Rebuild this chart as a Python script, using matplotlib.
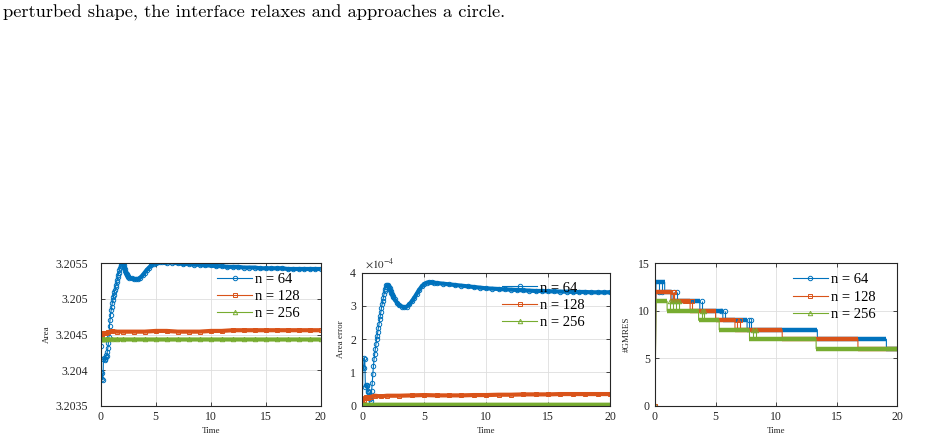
import numpy as np
import matplotlib.pyplot as plt

BLUE = '#0072BD'
ORANGE = '#D95319'
GREEN = '#77AC30'
DARK = '#262626'

# ---- data ------------------------------------------------------------------
# n = 64 is sampled on a finer grid early on (0.05), coarser later
t64 = np.concatenate([np.round(np.arange(0, 2.51, 0.05), 2),
                      np.round(np.arange(2.6, 6.01, 0.2), 1),
                      np.arange(6.5, 20.01, 0.5)])

area64 = [3.20434, 3.20398, 3.20396, 3.20388, 3.20386, 3.20415, 3.20417, 3.20416, 3.20414, 3.20418,
          3.20421, 3.20420, 3.20426, 3.20431, 3.20438, 3.20446, 3.20462, 3.20471, 3.20478, 3.20484,
          3.20489, 3.20494, 3.20498, 3.20502, 3.20506, 3.20510, 3.20513, 3.20517, 3.20520, 3.20524,
          3.20527, 3.20531, 3.20534, 3.20537, 3.20540, 3.20543, 3.20546, 3.20548, 3.20550, 3.20551,
          3.20551, 3.20550, 3.20548, 3.20545, 3.20542, 3.20539, 3.20537, 3.20535, 3.20533, 3.20532,
          3.20531,
          3.20530, 3.20529, 3.20528, 3.20528, 3.20528, 3.20530, 3.20533, 3.20537, 3.20541, 3.20544,
          3.20547, 3.20549, 3.20551, 3.20552, 3.20552, 3.20552, 3.20552, 3.20551,
          3.20551, 3.20550, 3.20549, 3.20549, 3.20548, 3.20548, 3.20547, 3.20547, 3.20546, 3.20546,
          3.20545, 3.20545, 3.20545, 3.20544, 3.20544, 3.20544, 3.20543, 3.20543, 3.20543, 3.20543,
          3.20543, 3.20542, 3.20542, 3.20542, 3.20542, 3.20542, 3.20542, 3.20542]

# area error in units of 1e-4
err64 = [0.00, 1.15, 1.12, 1.42, 1.40, 0.55, 0.62, 0.58, 0.62, 0.45,
         0.42, 0.40, 0.30, 0.20, 0.15, 0.45, 0.67, 0.95, 1.20, 1.40,
         1.55, 1.70, 1.85, 2.00, 2.10, 2.22, 2.35, 2.45, 2.60, 2.70,
         2.82, 2.95, 3.05, 3.15, 3.25, 3.35, 3.45, 3.52, 3.58, 3.62,
         3.63, 3.62, 3.60, 3.58, 3.54, 3.49, 3.45, 3.40, 3.35, 3.31,
         3.27,
         3.20, 3.10, 3.02, 2.98, 2.96, 2.98, 3.05, 3.14, 3.25, 3.37,
         3.49, 3.59, 3.66, 3.70, 3.71, 3.71, 3.70, 3.69,
         3.67, 3.65, 3.63, 3.61, 3.59, 3.57, 3.55, 3.53,
         3.52, 3.51, 3.50, 3.49, 3.48, 3.47, 3.46, 3.45, 3.45, 3.44,
         3.44, 3.43, 3.43, 3.42, 3.42, 3.42, 3.41, 3.41, 3.41, 3.41]

t_fine = [0, 0.1, 0.2, 0.3, 0.5, 0.7, 1.0, 1.5, 2, 3, 4, 5, 6, 7, 8, 9, 10,
          11, 12, 13, 14, 15, 16, 17, 18, 19, 20]
area128 = [3.20446, 3.20450, 3.20452, 3.20452, 3.20452, 3.20453, 3.20455, 3.20454, 3.20454,
           3.20454, 3.20454, 3.20455, 3.20455, 3.20454, 3.20454, 3.20454, 3.20455, 3.20455,
           3.20456, 3.20456, 3.20456, 3.20456, 3.20456, 3.20456, 3.20456, 3.20456, 3.20456]
area256 = [3.20444, 3.20443, 3.20443, 3.20443, 3.20443, 3.20443, 3.20443, 3.20443, 3.20443,
           3.20443, 3.20443, 3.20443, 3.20443, 3.20443, 3.20443, 3.20443, 3.20443, 3.20443,
           3.20443, 3.20443, 3.20443, 3.20443, 3.20443, 3.20443, 3.20443, 3.20443, 3.20443]
err128 = [0.00, 0.18, 0.22, 0.25, 0.24, 0.27, 0.30, 0.28, 0.30, 0.30, 0.31, 0.32, 0.31, 0.31,
          0.31, 0.32, 0.32, 0.33, 0.33, 0.34, 0.34, 0.34, 0.35, 0.35, 0.35, 0.35, 0.35]
err256 = [0.00, 0.03, 0.03, 0.03, 0.03, 0.03, 0.03, 0.03, 0.03, 0.03, 0.03, 0.03, 0.03, 0.03,
          0.03, 0.03, 0.03, 0.03, 0.03, 0.03, 0.03, 0.03, 0.03, 0.03, 0.03, 0.03, 0.03]

# GMRES iteration counts: plateaus (level, start, end) and short spikes (time, value)
gm64_lvl = [13, 12, 11, 10, 9, 8, 7, 6]
gm64_t0 = [0.08, 0.8, 1.4, 3.7, 5.6, 7.6, 13.4, 19.1]
gm64_t1 = [0.8, 1.4, 3.7, 5.6, 7.6, 13.4, 19.1, 20.0]
gm64_spk_t = [0.3, 0.55, 1.55, 1.8, 3.9, 5.45, 5.75, 7.75, 7.95]
gm64_spk_v = [12, 12, 12, 12, 11, 10, 10, 9, 9]

gm128_lvl = [12, 11, 10, 9, 8, 7, 6]
gm128_t0 = [0.08, 1.3, 2.9, 5.0, 6.6, 10.5, 16.75]
gm128_t1 = [1.3, 2.9, 5.0, 6.6, 10.5, 16.75, 20.0]
gm128_spk_t = [1.45, 1.6, 2.5, 2.7, 3.05, 6.8, 7.05]
gm128_spk_v = [12, 12, 11, 11, 11, 9, 9]

gm256_lvl = [11, 10, 9, 8, 7, 6]
gm256_t0 = [0.08, 1.0, 3.6, 5.3, 7.8, 13.3]
gm256_t1 = [1.0, 3.6, 5.3, 7.8, 13.3, 20.0]
gm256_spk_t = [1.2, 1.45, 1.7, 1.95, 3.85, 4.05, 8.05, 8.3]
gm256_spk_v = [11, 11, 11, 11, 10, 10, 8, 8]

labels = ['n = 64', 'n = 128', 'n = 256']

# ---- style -------------------------------------------------------------------
plt.rcParams['font.family'] = ['Liberation Serif', 'DejaVu Serif']
plt.rcParams['mathtext.fontset'] = 'stix'

W, H = 941, 441
fig = plt.figure(figsize=(W / 100, H / 100), dpi=100)


def box(l, t, r, b):
    return [l / W, 1 - b / H, (r - l) / W, (b - t) / H]


def style(ax, ypad):
    ax.set_xlim(0, 20)
    ax.set_xticks([0, 5, 10, 15, 20])
    ax.tick_params(direction='in', length=3, width=0.6, top=True, right=True,
                   labelsize=8.5, colors=DARK)
    ax.tick_params(axis='x', pad=3.5)
    ax.tick_params(axis='y', pad=ypad)
    ax.grid(True, color='#dedede', lw=0.6)
    ax.set_axisbelow(True)
    for s in ax.spines.values():
        s.set_color(DARK)
        s.set_linewidth(0.8)
    ax.set_xlabel('Time', fontsize=6.5, color=DARK, labelpad=3)


def line(ax, t, v, color, marker, label, band_from):
    t = np.asarray(t)
    v = np.asarray(v)
    ax.plot(t, v, color=color, lw=0.8, marker=marker, ms=3.2, mfc='none', mew=0.7, label=label)
    ax.plot(t[band_from:], v[band_from:], color=color, lw=3, solid_capstyle='butt')


def gmres(ax, lvl, t0, t1, spk_t, spk_v, color, marker, label):
    xs, ys = [0.0], [0.0]
    for l, a, b in zip(lvl, t0, t1):
        xs += [a, b]
        ys += [l, l]
    ax.plot(xs, ys, color=color, lw=0.8, marker=marker, ms=3.2, mfc='none', mew=0.7,
            markevery=[0], label=label)
    ax.hlines(lvl, t0, t1, colors=color, lw=3.2)
    base = np.asarray(lvl)[np.searchsorted(t0, spk_t, side='right') - 1]
    ax.vlines(spk_t, base, spk_v, colors=color, lw=0.8)
    ax.plot(spk_t, spk_v, ls='none', marker=marker, ms=3.2, mfc='none', mew=0.7, color=color)


def legend(ax, x, y):
    ax.legend(loc='upper left', bbox_to_anchor=(x, y), frameon=False, fontsize=10.5,
              handlelength=2.4, handletextpad=0.2, labelspacing=0.28,
              borderpad=0, borderaxespad=0)


fig.text(3 / W, 1 - 13 / H, 'perturbed shape, the interface relaxes and approaches a circle.',
         fontfamily='cmr10', fontsize=13.3, ha='left', va='center')

# panel 1: area
ax1 = fig.add_axes(box(100.7, 263.3, 320.7, 405.7))
style(ax1, 9.0)
line(ax1, t64, area64, BLUE, 'o', labels[0], 40)
line(ax1, t_fine, area128, ORANGE, 's', labels[1], 0)
line(ax1, t_fine, area256, GREEN, '^', labels[2], 0)
ax1.set_ylim(3.2035, 3.2055)
ax1.set_yticks([3.2035, 3.204, 3.2045, 3.205, 3.2055])
ax1.yaxis.set_major_formatter(plt.FuncFormatter(lambda v, p: '%g' % v))
ax1.set_ylabel('Area', fontsize=6.5, color=DARK, labelpad=3.6)
legend(ax1, 0.529, 0.935)

# panel 2: area error
ax2 = fig.add_axes(box(362.3, 272.7, 610.0, 405.7))
style(ax2, 4.5)
line(ax2, t64, err64, BLUE, 'o', labels[0], 40)
line(ax2, t_fine, err128, ORANGE, 's', labels[1], 0)
line(ax2, t_fine, err256, GREEN, '^', labels[2], 0)
ax2.set_ylim(0, 4)
ax2.set_yticks([0, 1, 2, 3, 4])
ax2.set_ylabel('Area error', fontsize=6.5, color=DARK, labelpad=3.6)
ax2.text(0.01, 1.01, r'$\times10^{-4}$', transform=ax2.transAxes, fontsize=8,
         color=DARK, ha='left', va='bottom')
legend(ax2, 0.566, 0.935)

# panel 3: GMRES iterations
ax3 = fig.add_axes(box(655.0, 263.3, 897.3, 405.7))
style(ax3, 3.6)
gmres(ax3, gm64_lvl, gm64_t0, gm64_t1, gm64_spk_t, gm64_spk_v, BLUE, 'o', labels[0])
gmres(ax3, gm128_lvl, gm128_t0, gm128_t1, gm128_spk_t, gm128_spk_v, ORANGE, 's', labels[1])
gmres(ax3, gm256_lvl, gm256_t0, gm256_t1, gm256_spk_t, gm256_spk_v, GREEN, '^', labels[2])
ax3.set_ylim(0, 15)
ax3.set_yticks([0, 5, 10, 15])
ax3.set_ylabel('#GMRES', fontsize=6.5, color=DARK, labelpad=5)
legend(ax3, 0.568, 0.93)

fig.savefig('out.png', dpi=100)
